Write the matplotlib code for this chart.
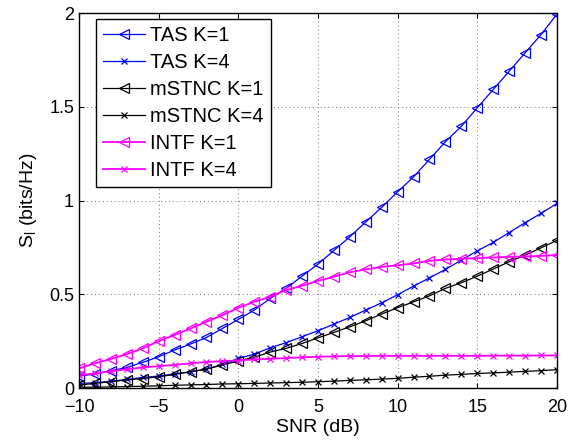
import numpy as np
import matplotlib.pyplot as plt

plt.rcParams['font.family'] = ['Liberation Sans', 'DejaVu Sans']
plt.rcParams['mathtext.fontset'] = 'custom'
plt.rcParams['mathtext.rm'] = 'Liberation Sans'
plt.rcParams['mathtext.it'] = 'Liberation Sans'

snr = np.arange(-10, 21)

# values
tas_k1 = [0.064, 0.075, 0.092, 0.110, 0.137, 0.167, 0.203, 0.235, 0.270, 0.318,
          0.366, 0.416, 0.478, 0.532, 0.597, 0.661, 0.734, 0.807, 0.886, 0.964,
          1.047, 1.127, 1.220, 1.314, 1.397, 1.495, 1.593, 1.690, 1.788, 1.886, 1.995]
tas_k4 = [0.025, 0.028, 0.037, 0.046, 0.057, 0.064, 0.075, 0.087, 0.101, 0.126,
          0.158, 0.181, 0.215, 0.242, 0.274, 0.306, 0.341, 0.377, 0.416, 0.455,
          0.498, 0.544, 0.588, 0.633, 0.683, 0.732, 0.777, 0.830, 0.882, 0.932, 0.985]
mstnc_k1 = [0.016, 0.025, 0.034, 0.043, 0.051, 0.060, 0.073, 0.087, 0.101, 0.123,
            0.145, 0.165, 0.192, 0.212, 0.238, 0.268, 0.297, 0.327, 0.359, 0.395,
            0.429, 0.460, 0.492, 0.532, 0.562, 0.597, 0.635, 0.674, 0.709, 0.748, 0.788]
mstnc_k4 = [0.005, 0.005, 0.006, 0.008, 0.010, 0.012, 0.015, 0.017, 0.019, 0.022,
            0.023, 0.025, 0.027, 0.029, 0.031, 0.034, 0.037, 0.041, 0.044, 0.048,
            0.052, 0.058, 0.063, 0.069, 0.073, 0.078, 0.081, 0.085, 0.089, 0.093, 0.098]
intf_k1 = [0.105, 0.132, 0.155, 0.181, 0.212, 0.250, 0.283, 0.318, 0.354, 0.389,
           0.428, 0.460, 0.487, 0.523, 0.546, 0.572, 0.594, 0.618, 0.633, 0.647,
           0.655, 0.665, 0.679, 0.686, 0.690, 0.693, 0.697, 0.700, 0.702, 0.705, 0.710]
intf_k4 = [0.069, 0.078, 0.090, 0.100, 0.110, 0.117, 0.124, 0.132, 0.139, 0.144,
           0.147, 0.153, 0.156, 0.160, 0.164, 0.167, 0.169, 0.171, 0.171, 0.172,
           0.172, 0.172, 0.172, 0.172, 0.172, 0.172, 0.173, 0.173, 0.173, 0.174, 0.174]

fig = plt.figure(figsize=(5.69, 4.40), dpi=100)
ax = fig.add_axes([0.1388, 0.118, 0.840, 0.852])

blue, magenta = (0, 0, 1), (1, 0, 1)
tri = dict(marker='<', markersize=7.5, markerfacecolor='none', markeredgewidth=0.9)
crs = dict(marker='x', markersize=4.5, markeredgewidth=0.9)

ax.plot(snr, tas_k1, color=blue, lw=0.9, label='TAS K=1', **tri)
ax.plot(snr, tas_k4, color=blue, lw=0.9, label='TAS K=4', **crs)
ax.plot(snr, mstnc_k1, color='k', lw=0.9, label='mSTNC K=1', **tri)
ax.plot(snr, mstnc_k4, color='k', lw=0.9, label='mSTNC K=4', **crs)
ax.plot(snr, intf_k1, color=magenta, lw=1.3, label='INTF K=1', **tri)
ax.plot(snr, intf_k4, color=magenta, lw=1.3, label='INTF K=4', **crs)

ax.set_xlim(-10, 20)
ax.set_ylim(0, 2)
ax.set_xticks([-10, -5, 0, 5, 10, 15, 20])
ax.set_yticks([0, 0.5, 1, 1.5, 2])
ax.set_yticklabels(['0', '0.5', '1', '1.5', '2'])
ax.set_xticklabels(['\u221210', '\u22125', '0', '5', '10', '15', '20'])
ax.tick_params(direction='in', top=True, right=True, labelsize=13, length=3.5)
ax.tick_params(axis='x', pad=8)
ax.tick_params(axis='y', pad=3.5)
ax.grid(True, linestyle=(0, (1, 3)), color='0.45', lw=0.7)
for s in ax.spines.values():
    s.set_linewidth(1.0)

ax.set_xlabel('SNR (dB)', fontsize=14, labelpad=2)
ax.set_ylabel(r'S$_\mathrm{l}$ (bits/Hz)', fontsize=14, labelpad=7)

leg = ax.legend(loc='upper left', bbox_to_anchor=(0.0356, 0.984), fontsize=14.5,
                frameon=True, fancybox=False, edgecolor='k', framealpha=1,
                handlelength=2.1, handletextpad=0.25, labelspacing=0.4,
                borderpad=0.34, borderaxespad=0)
leg.get_frame().set_linewidth(1.0)

fig.savefig('out.png', dpi=100)
